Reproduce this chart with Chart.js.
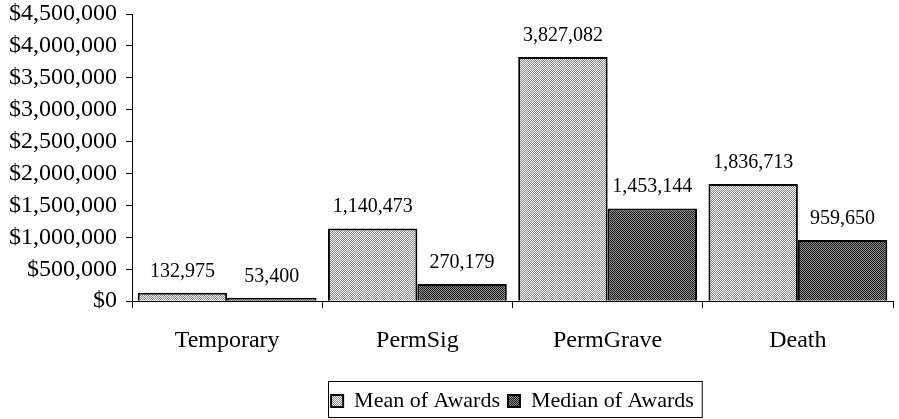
<!DOCTYPE html>
<html>
<head>
<meta charset="utf-8">
<script src="https://cdn.jsdelivr.net/npm/chart.js@4"></script>
<style>
  html, body { margin: 0; padding: 0; background: #fff; }
  #wrap { width: 899px; height: 419px; }
</style>
</head>
<body>
<div id="wrap"><canvas id="myChart" width="899" height="419"></canvas></div>
<script>
// data
const categories = ['Temporary', 'PermSig', 'PermGrave', 'Death'];
const meanAwards = [132975, 1140473, 3827082, 1836713];
const medianAwards = [53400, 270179, 1453144, 959650];
const seriesNames = ['Mean of Awards', 'Median of Awards'];

const SERIF = '"Liberation Serif", "Times New Roman", serif';

// halftone-ish fills like the scanned print
function makePattern(a, b) {
    const c = document.createElement('canvas');
    c.width = 2; c.height = 2;
    const g = c.getContext('2d');
    g.fillStyle = a; g.fillRect(0, 0, 2, 2);
    g.fillStyle = b; g.fillRect(1, 0, 1, 1); g.fillRect(0, 1, 1, 1);
    return g.createPattern(c, 'repeat');
}
const meanFill = makePattern('#f4f4f4', '#8a8a8a');
const medianFill = makePattern('#1e1e1e', '#8c8c8c');

const fmt = v => v.toLocaleString('en-US');

// value labels above the bars
const barLabels = {
    id: 'barLabels',
    afterDatasetsDraw(chart) {
        const ctx = chart.ctx;
        ctx.save();
        ctx.font = '20px ' + SERIF;
        ctx.fillStyle = '#000';
        ctx.textAlign = 'center';
        ctx.textBaseline = 'alphabetic';
        chart.data.datasets.forEach((ds, i) => {
            chart.getDatasetMeta(i).data.forEach((bar, j) => {
                ctx.fillText(fmt(ds.data[j]), bar.x, bar.y - 16);
            });
        });
        ctx.restore();
    }
};

// border round the legend
const legendFrame = {
    id: 'legendFrame',
    afterDraw(chart) {
        const boxes = chart.legend.legendHitBoxes;
        if (!boxes || !boxes.length) return;
        const left = Math.min(...boxes.map(b => b.left)) - 3;
        const right = Math.max(...boxes.map(b => b.left + b.width)) + 8;
        const top = Math.min(...boxes.map(b => b.top)) - 9;
        const bottom = Math.min(Math.max(...boxes.map(b => b.top + b.height)) + 8, chart.height - 2);
        const ctx = chart.ctx;
        ctx.save();
        ctx.strokeStyle = '#000';
        ctx.lineWidth = 1;
        ctx.strokeRect(Math.round(left) + 0.5, Math.round(top) + 0.5, right - left, bottom - top);
        ctx.restore();
    }
};

const data = {
    labels: categories,
    datasets: [
        {
            label: seriesNames[0],
            data: meanAwards,
            backgroundColor: meanFill,
            borderColor: '#000',
            borderWidth: 2,
            borderSkipped: 'bottom',
        },
        {
            label: seriesNames[1],
            data: medianAwards,
            backgroundColor: medianFill,
            borderColor: '#000',
            borderWidth: 2,
            borderSkipped: 'bottom',
        },
    ]
};

const config = {
    type: 'bar',
    data,
    plugins: [barLabels, legendFrame],
    options: {
        responsive: false,
        animation: false,
        layout: { padding: { top: 0, right: 6, left: 0, bottom: -3 } },
        datasets: {
            bar: { categoryPercentage: 0.94, barPercentage: 1.0 }
        },
        plugins: {
            tooltip: { enabled: false },
            legend: {
                position: 'bottom',
                fullSize: false,
                labels: {
                    color: '#000',
                    font: { family: SERIF, size: 22, lineHeight: 1 },
                    boxWidth: 12,
                    boxHeight: 12,
                    padding: 8,
                    useBorderRadius: false,
                },
            },
        },
        scales: {
            x: {
                grid: {
                    drawOnChartArea: false,
                    color: '#000',
                    tickLength: 7,
                    offset: true,
                },
                border: { color: '#000', width: 1 },
                ticks: {
                    color: '#000',
                    padding: 18,
                    font: { family: SERIF, size: 24 },
                },
                // extra room between the category labels and the legend
                afterFit: scale => { scale.height += 9; },
            },
            y: {
                min: 0,
                max: 4500000,
                grid: {
                    drawOnChartArea: false,
                    color: '#000',
                    tickLength: 6,
                },
                border: { color: '#000', width: 1 },
                ticks: {
                    stepSize: 500000,
                    color: '#000',
                    padding: 9,
                    font: { family: SERIF, size: 24, lineHeight: 1 },
                    callback: v => '$' + fmt(v),
                },
                // top tick label sits close to the canvas edge
                afterFit: scale => { scale.paddingTop = 14; },
            },
        },
    },
};

// render
const ctx = document.getElementById('myChart');
const myChart = new Chart(ctx, config);
</script>
</body>
</html>
